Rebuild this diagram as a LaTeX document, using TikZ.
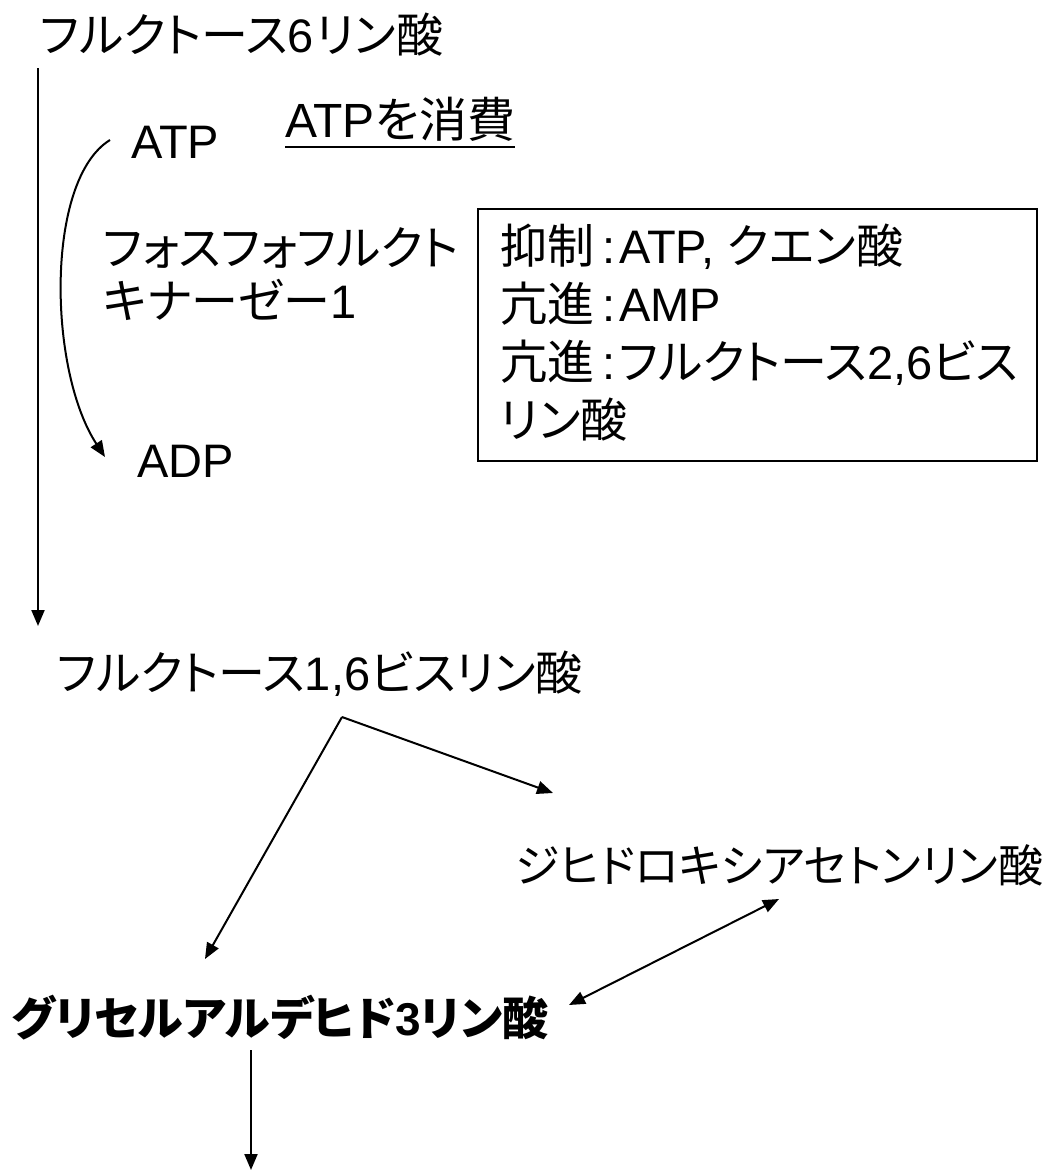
\documentclass[tikz,border=0pt]{standalone}
\usepackage{fontspec}
\setmainfont{Liberation Sans}
\newfontfamily\jpf[RawFeature=+palt]{Noto Sans CJK JP}
\newcommand\JT[1]{{\jpf #1}}
\newcommand\colsep{\hspace{8pt}:\hspace{4pt}}
\usetikzlibrary{arrows.meta}
\begin{document}
\begin{tikzpicture}[x=1pt,y=-1pt,
  lbl/.style={inner sep=0pt, anchor=base west, font=\fontsize{47}{56}\selectfont},
  conn/.style={line width=2pt, -{Triangle[length=16pt,width=13pt]}},
  dconn/.style={line width=2pt, {Triangle[length=16pt,width=13pt]}-{Triangle[length=16pt,width=13pt]}}]
\useasboundingbox (0,0) rectangle (1048,1175);
% texts
\node[lbl] (f6p) at (40,52) {\JT{フルクトース}6\hspace{2pt}\JT{リン酸}};
\node[lbl] (atp) at (131,158) {ATP};
\node[lbl, font=\fontsize{48}{56}\selectfont] (atpc) at (285,137) {ATP\JT{を消費}};
\draw[line width=2.5pt] ([yshift=-10pt]atpc.base west) -- ([yshift=-10pt]atpc.base east);
\node[lbl] (pfk1) at (103,265) {\JT{フォスフォフルクト}};
\node[lbl] (pfk2) at (103,318) {\JT{キナーゼー}1};
\node[lbl] (adp) at (137,477) {ADP};
\node[draw, line width=2pt, inner sep=0pt, minimum width=559pt, minimum height=252pt, anchor=north west] (box) at (477,208) {};
\node[lbl] (r1) at (500,263) {\JT{抑制}\colsep ATP, \JT{クエン酸}};
\node[lbl] (r2) at (500,321) {\JT{亢進}\colsep AMP};
\node[lbl] (r3) at (500,379) {\JT{亢進}\colsep\JT{フルクトース}2,6\JT{ビス}};
\node[lbl] (r4) at (500,437) {\JT{リン酸}};
\node[lbl] (f16bp) at (57,690) {\JT{フルクトース}1,6\JT{ビスリン酸}};
\node[lbl, font=\fontsize{45}{54}\selectfont] (dhap) at (515,882) {\JT{ジヒドロキシアセトンリン酸}};
\node[lbl, font=\fontsize{46}{54}\selectfont\bfseries] (gap) at (11,1035) {\JT{グリセルアルデヒド}3\JT{リン酸}};
% coordinates
\coordinate (v1) at (38,68);
\coordinate (v2) at (38,626);
\coordinate (c1) at (110,140);
\coordinate (c2) at (105,457);
\coordinate (br) at (342,717);
\coordinate (bR) at (553,793);
\coordinate (bL) at (205,959);
\coordinate (d1) at (779,899);
\coordinate (d2) at (569,1005);
\coordinate (g1) at (251,1050);
\coordinate (g2) at (251,1170);
% connectors
\draw[conn] (v1) -- (v2);
\draw[conn] (c1) .. controls (45,180) and (48,370) .. (c2);
\draw[conn] (br) -- (bR);
\draw[conn] (br) -- (bL);
\draw[dconn] (d1) -- (d2);
\draw[conn] (g1) -- (g2);
\end{tikzpicture}
\end{document}
